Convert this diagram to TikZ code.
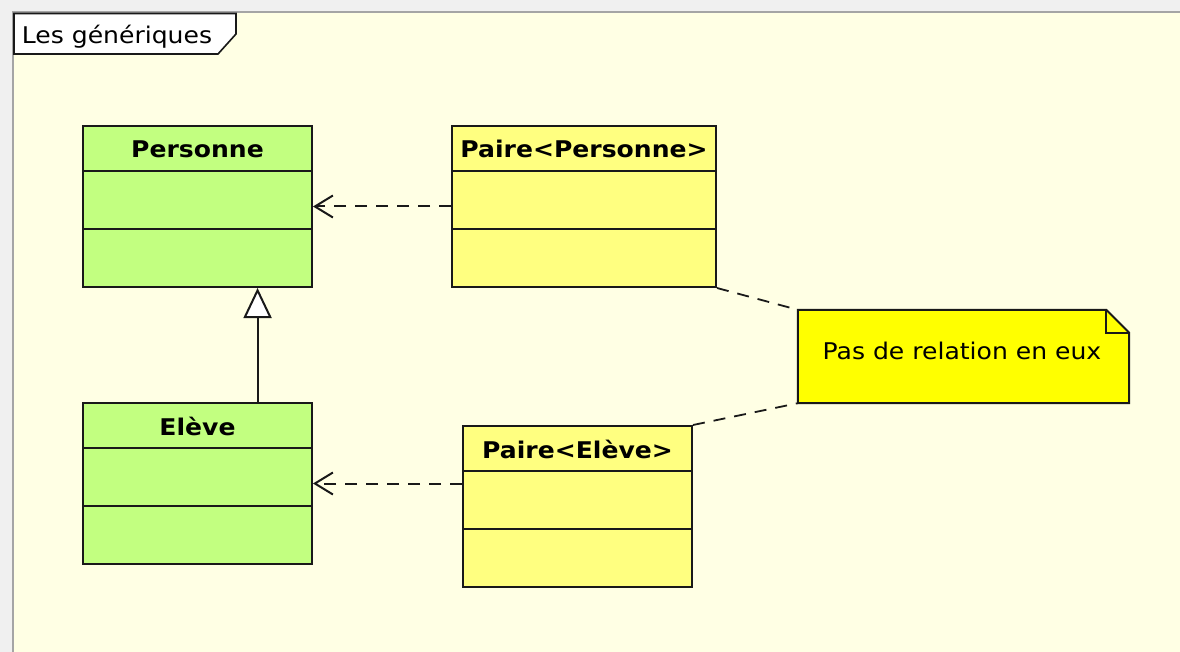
\documentclass[tikz,border=0pt]{standalone}
\usepackage{fontspec}
\setmainfont{DejaVu Sans}
\newfontfamily\umlfont{DejaVu Sans}[FakeStretch=1.09]
\usetikzlibrary{arrows.meta,calc}
\definecolor{bgc}{RGB}{255,255,228}
\definecolor{outc}{RGB}{240,240,240}
\definecolor{framec}{RGB}{165,165,165}
\definecolor{greenc}{RGB}{194,255,128}
\definecolor{yelc}{RGB}{255,255,128}
\definecolor{notec}{RGB}{255,255,0}
\definecolor{linec}{RGB}{25,25,25}
\begin{document}
\begin{tikzpicture}[x=1pt,y=-1pt,
  every node/.style={font=\umlfont\fontsize{23}{27}\selectfont, inner sep=0pt, text=black},
  clsbox/.style={draw=linec, line width=2pt, minimum width=#1, minimum height=161pt},
  greenbox/.style={clsbox=#1, fill=greenc},
  yelbox/.style={clsbox=#1, fill=yelc},
  clstitle/.style={anchor=base, font=\umlfont\bfseries\fontsize{23}{27}\selectfont},
  cline/.style={draw=linec, line width=2pt},
  depend/.style={draw=linec, line width=2pt, dash pattern=on 12pt off 9pt,
    -{Straight Barb[length=18pt,width=22pt]}},
  generalize/.style={draw=linec, line width=2pt,
    -{Triangle[length=30pt,width=28pt,fill=white]}},
  notelink/.style={draw=linec, line width=1.8pt, dash pattern=on 12pt off 9pt}
]
\useasboundingbox (0,0) rectangle (1180,652);
% outer area and frame
\fill[outc] (0,0) rectangle (1180,652);
\fill[bgc] (14,13) rectangle (1180,652);
\draw[framec, line width=2.5pt] (13.2,652) -- (13.2,12.2) -- (1180,12.2);
% tab
\filldraw[fill=white, draw=linec, line width=1.6pt]
  (14,13.5) -- (236,13.5) -- (236,34) -- (218,54) -- (14,54) -- cycle;
\node[anchor=base] (tab) at (117,44) {Les génériques};

% classes
\node[greenbox=229pt] (pers) at (197.5,206.5) {};
\node[yelbox=264pt] (pp) at (584,206.5) {};
\node[greenbox=229pt] (el) at (197.5,483.5) {};
\node[yelbox=229pt] (pe) at (577.5,506.5) {};

\foreach \n in {pers,pp,el,pe}{
  \draw[cline] ($(\n.north west)+(0,46)$) -- ($(\n.north east)+(0,46)$);
  \draw[cline] ($(\n.north west)+(0,104)$) -- ($(\n.north east)+(0,104)$);
}

\node[clstitle] (persT) at ($(pers.north)+(0,33)$) {Personne};
\node[clstitle] (ppT) at ($(pp.north)+(0,33)$) {Paire<Personne>};
\node[clstitle] (elT) at ($(el.north)+(0,33)$) {Elève};
\node[clstitle] (peT) at ($(pe.north)+(0,33)$) {Paire<Elève>};

% note
\node[minimum width=331pt, minimum height=93pt] (note) at (963.5,356.5) {};
\filldraw[fill=notec, draw=linec, line width=2pt]
  (note.north west) -- ($(note.north east)+(-23,0)$) -- ($(note.north east)+(0,23)$)
  -- (note.south east) -- (note.south west) -- cycle;
\draw[cline] ($(note.north east)+(-23,0)$) -- ($(note.north east)+(-23,23)$) -- ($(note.north east)+(0,23)$);
\node[anchor=base] (noteT) at (962,359) {Pas de relation en eux};

% connectors
\coordinate (elTop) at ($(el.north west)!0.76!(el.north east)$);
\coordinate (persBot) at ($(pers.south west)!0.76!(pers.south east)$);
\draw[generalize] (elTop) -- (persBot);
\draw[depend] (pp.west) -- (pers.east);
\draw[depend] (pe.west |- el.east) -- (el.east);
\draw[notelink] (pp.south east) -- (note.north west);
\draw[notelink] (pe.north east) -- (note.south west);
\end{tikzpicture}
\end{document}
